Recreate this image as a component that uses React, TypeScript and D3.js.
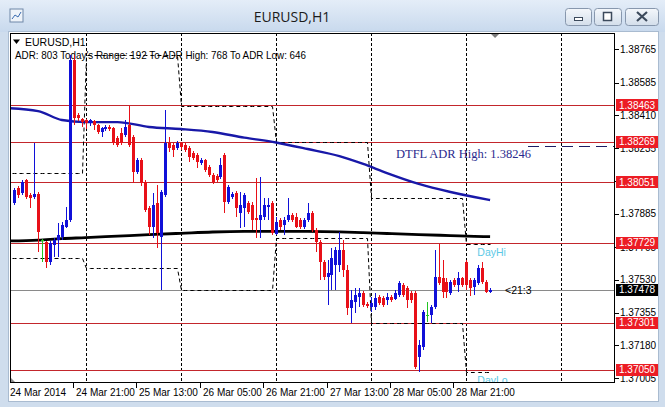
import React from "react";
import * as d3 from "d3";

const W = 665;
const H = 407;
const PLOT = { left: 10, top: 33, right: 615, bottom: 383 };
const UI = "'Liberation Sans', Arial, sans-serif";

// hourly bars, hour index counted from 24 Mar 2014 00:00
const firstHour = 6;
const opens = [
  1.37941, 1.38021, 1.37994, 1.38064, 1.37984, 1.37973, 1.37989, 1.37743, 1.37732, 1.37625,
  1.37716, 1.37743, 1.37759, 1.37813, 1.3785, 1.38706, 1.38412, 1.3839, 1.38385, 1.38369,
  1.3838, 1.38358, 1.38321, 1.38337, 1.38348, 1.38342, 1.38289, 1.38315, 1.38305, 1.38358,
  1.38294, 1.38107, 1.38171, 1.38053, 1.37914, 1.37813, 1.37941, 1.37759, 1.37984, 1.38262,
  1.38251, 1.38235, 1.38262, 1.38251, 1.38235, 1.38208, 1.38198, 1.38155, 1.38171, 1.38134,
  1.38091, 1.38085, 1.3808, 1.38198, 1.37946, 1.37973, 1.37994, 1.37887, 1.37914, 1.37941,
  1.3793, 1.37861, 1.3785, 1.37866, 1.3792, 1.37941, 1.37775, 1.3785, 1.37823, 1.3785,
  1.37877, 1.37866, 1.3785, 1.37813, 1.3785, 1.37887, 1.37797, 1.37732, 1.37625, 1.37545,
  1.37556, 1.37609, 1.37609, 1.3769, 1.37583, 1.37379, 1.37411, 1.37438, 1.37459, 1.37401,
  1.37385, 1.37385, 1.37438, 1.37433, 1.37422, 1.37438, 1.37427, 1.37449, 1.37502, 1.37486,
  1.37459, 1.37459, 1.37117, 1.37171, 1.37342, 1.37342, 1.37385, 1.37545, 1.3754, 1.37518,
  1.37459, 1.37529, 1.37502, 1.3754, 1.37625, 1.37529, 1.37492, 1.37513, 1.37593, 1.37518,
  1.37465,
];
const highs = [
  1.38021, 1.38032, 1.38064, 1.38069, 1.37994, 1.38262, 1.38, 1.37748, 1.37738, 1.37738,
  1.37754, 1.37834, 1.37839, 1.3792, 1.38733, 1.38733, 1.38422, 1.38396, 1.3839, 1.3839,
  1.38385, 1.38364, 1.38348, 1.38358, 1.38358, 1.38348, 1.38299, 1.38342, 1.38385, 1.3846,
  1.38305, 1.38182, 1.38182, 1.38064, 1.37925, 1.37994, 1.38037, 1.38011, 1.38439, 1.38294,
  1.38262, 1.38273, 1.38267, 1.38262, 1.38246, 1.38219, 1.38208, 1.38182, 1.38176, 1.38144,
  1.38101, 1.38096, 1.38182, 1.38208, 1.38037, 1.38, 1.38005, 1.38, 1.37994, 1.37952,
  1.37946, 1.38075, 1.3808, 1.37968, 1.37968, 1.37952, 1.37866, 1.37861, 1.37866, 1.37968,
  1.37887, 1.37887, 1.37861, 1.37861, 1.37941, 1.37898, 1.37807, 1.37743, 1.37636, 1.37636,
  1.377, 1.37706, 1.37786, 1.37743, 1.37609, 1.37476, 1.37486, 1.37486, 1.3747, 1.37411,
  1.37438, 1.37459, 1.37449, 1.37443, 1.37459, 1.37449, 1.37476, 1.37524, 1.37513, 1.37497,
  1.3747, 1.3747, 1.37208, 1.37369, 1.37411, 1.37395, 1.3769, 1.37722, 1.37636, 1.3754,
  1.37529, 1.3754, 1.37572, 1.37545, 1.37635, 1.3754, 1.3754, 1.37609, 1.37625, 1.37529,
  1.37486,
];
const lows = [
  1.3793, 1.37968, 1.37984, 1.37962, 1.37914, 1.37962, 1.37679, 1.37625, 1.37593, 1.37609,
  1.37652, 1.37652, 1.37743, 1.37807, 1.37839, 1.38358, 1.3838, 1.38348, 1.38337, 1.38353,
  1.38332, 1.3831, 1.38294, 1.38326, 1.38326, 1.38251, 1.38241, 1.38251, 1.38294, 1.38241,
  1.38048, 1.38096, 1.38032, 1.37893, 1.3777, 1.37754, 1.377, 1.37476, 1.37973, 1.38214,
  1.38187, 1.38225, 1.38225, 1.38214, 1.3816, 1.38171, 1.38128, 1.38144, 1.38107, 1.3808,
  1.38043, 1.38053, 1.38069, 1.37887, 1.37936, 1.37962, 1.37866, 1.37807, 1.37813, 1.37882,
  1.37797, 1.37754, 1.37754, 1.3785, 1.3785, 1.3777, 1.3777, 1.37797, 1.3777, 1.37839,
  1.37839, 1.37807, 1.37802, 1.37802, 1.37839, 1.37786, 1.37679, 1.37529, 1.37529, 1.37395,
  1.37476, 1.37476, 1.37572, 1.37545, 1.37342, 1.37299, 1.37352, 1.37385, 1.37385, 1.37379,
  1.37358, 1.37369, 1.37395, 1.37385, 1.37395, 1.37411, 1.37422, 1.37438, 1.37438, 1.37379,
  1.37406, 1.37053, 1.37037, 1.37155, 1.37304, 1.37299, 1.37374, 1.37502, 1.37433, 1.37433,
  1.37449, 1.37492, 1.37465, 1.37492, 1.37476, 1.37443, 1.37449, 1.37502, 1.37508, 1.37459,
  1.37459,
];
const closes = [
  1.38011, 1.37984, 1.38053, 1.37973, 1.37968, 1.37989, 1.37786, 1.37743, 1.37625, 1.37727,
  1.37743, 1.3777, 1.37823, 1.3785, 1.38706, 1.38396, 1.38396, 1.38374, 1.38369, 1.38385,
  1.38358, 1.38321, 1.38342, 1.38348, 1.38337, 1.38262, 1.38251, 1.38262, 1.38348, 1.38251,
  1.38107, 1.38171, 1.38048, 1.37904, 1.37813, 1.3793, 1.3778, 1.38, 1.38262, 1.38235,
  1.38225, 1.38262, 1.38241, 1.38225, 1.38187, 1.38182, 1.3816, 1.38171, 1.38118, 1.38091,
  1.38053, 1.38064, 1.38144, 1.37946, 1.38027, 1.37989, 1.37914, 1.3793, 1.37984, 1.37893,
  1.3785, 1.3785, 1.37877, 1.3793, 1.3793, 1.3778, 1.37839, 1.37813, 1.3785, 1.37877,
  1.3785, 1.37813, 1.37813, 1.3785, 1.37887, 1.37797, 1.37732, 1.37625, 1.37545, 1.37566,
  1.37647, 1.3769, 1.3769, 1.37583, 1.37379, 1.37422, 1.37449, 1.37459, 1.37395, 1.3739,
  1.37406, 1.37433, 1.37406, 1.37395, 1.37438, 1.37422, 1.37459, 1.37513, 1.37449, 1.37422,
  1.37422, 1.37064, 1.37181, 1.37358, 1.37342, 1.37385, 1.37545, 1.37513, 1.37465, 1.37465,
  1.37518, 1.37502, 1.3754, 1.37502, 1.37502, 1.37486, 1.37529, 1.37593, 1.37518, 1.37465,
  1.37478,
];

// high / low of the day before the first visible day (21 Mar)
const prevDayHigh = 1.38101;
const prevDayLow = 1.37647;

// moving averages, read at a few bar hours
const maHours = [4, 12, 18, 24, 32, 40, 48, 56, 64, 72, 80, 88, 94, 100, 108, 116, 122, 126];
const maBlue = [
  1.38449, 1.38433, 1.38385, 1.38374, 1.38374, 1.38348, 1.38337, 1.38321, 1.38291,
  1.38265, 1.3823, 1.38192, 1.3815, 1.38101, 1.38043, 1.38, 1.37973, 1.37957,
];
const maBlack = [
  1.37738, 1.37743, 1.37751, 1.37756, 1.37764, 1.37772, 1.37779, 1.37786, 1.37789,
  1.37789, 1.37789, 1.37787, 1.37783, 1.37778, 1.37772, 1.37767, 1.37763, 1.37761,
];

const adrLevels = [1.38463, 1.38269, 1.38051, 1.37729, 1.37301, 1.3705];
const bid = 1.37478;
const adrHigh = 1.38246;
const priceTicks = [
  1.38765, 1.38585, 1.3841, 1.38235, 1.3806, 1.37885, 1.37705, 1.3753, 1.37355, 1.3718, 1.37005,
];
const separatorHours = [24, 48, 72, 96, 120, 144];
const timeTickHours = [21, 37, 53, 69, 85, 101, 117];
const timeTickLabels = [
  "24 Mar 21:00", "25 Mar 13:00", "26 Mar 05:00", "26 Mar 21:00",
  "27 Mar 13:00", "28 Mar 05:00", "28 Mar 21:00",
];
const firstDateLabel = "24 Mar 2014";

export default function App() {
  const x = d3.scaleLinear().domain([0, 144]).range([-9.5, -9.5 + 3.965 * 144]);
  const y = d3.scaleLinear().domain([1.37005, 1.38765]).range([378, 49]);
  const fmt = d3.format(".5f");

  const bars = opens.map((o, k) => ({
    hour: firstHour + k,
    o,
    h: highs[k],
    l: lows[k],
    c: closes[k],
  }));

  // previous day's high / low carried over each day
  const dayHi = new Map<number, number>();
  const dayLo = new Map<number, number>();
  d3.groups(bars, (b) => Math.floor(b.hour / 24)).forEach(([d, bs]) => {
    dayHi.set(d, d3.max(bs, (b) => b.h) as number);
    dayLo.set(d, d3.min(bs, (b) => b.l) as number);
  });
  const lastHour = bars[bars.length - 1].hour;
  const hours = d3.range(0, lastHour + 1);
  const prevHi = (h: number) => {
    const d = Math.floor(h / 24);
    return d === 0 ? prevDayHigh : (dayHi.get(d - 1) as number);
  };
  const prevLo = (h: number) => {
    const d = Math.floor(h / 24);
    return d === 0 ? prevDayLow : (dayLo.get(d - 1) as number);
  };
  const snap = (v: number) => Math.round(v) + 0.5;
  const hiPath = d3.line<number>().x((h) => snap(x(h))).y((h) => snap(y(prevHi(h))))(hours) as string;
  const loPath = d3.line<number>().x((h) => snap(x(h))).y((h) => snap(y(prevLo(h))))(hours) as string;

  const maLine = (vals: number[]) =>
    d3
      .line<number>()
      .x((h) => x(h))
      .y((_, i) => y(vals[i]))
      .curve(d3.curveMonotoneX)(maHours) as string;

  const px = (h: number) => Math.round(x(h));
  const todayStart = Math.floor(lastHour / 24) * 24;

  return (
    <svg
      width={W}
      height={H}
      style={{ position: "absolute", left: 0, top: 0 }}
      fontFamily={UI}
    >
      <defs>
        <linearGradient id="titleBg" x1="0" y1="0" x2="0" y2="1">
          <stop offset="0" stopColor="#e4edf8" />
          <stop offset="1" stopColor="#c8d9ed" />
        </linearGradient>
        <linearGradient id="btnBg" x1="0" y1="0" x2="0" y2="1">
          <stop offset="0" stopColor="#f4f7fb" />
          <stop offset="1" stopColor="#d3deeb" />
        </linearGradient>
        <clipPath id="plotClip">
          <rect
            x={PLOT.left}
            y={PLOT.top}
            width={PLOT.right - PLOT.left}
            height={PLOT.bottom - PLOT.top}
          />
        </clipPath>
      </defs>

      {/* window chrome */}
      <rect x={0} y={0} width={W} height={H} fill="#cfdded" />
      <rect x={0} y={0} width={W} height={32} fill="url(#titleBg)" />
      <g transform="translate(10,9)">
        <rect x={0} y={0} width={13} height={13} fill="#eef3f9" stroke="#6f87a8" />
        <path d="M2,10 L5,6 L8,8 L11,3" fill="none" stroke="#3a6bb0" strokeWidth={1} />
      </g>
      <text x={292} y={22} textAnchor="middle" fontFamily="'Open Sans', sans-serif" fontSize={14} fill="#1b1b1b">
        EURUSD,H1
      </text>
      {[
        { x0: 565, w: 26 },
        { x0: 594, w: 27 },
        { x0: 625, w: 33 },
      ].map((b, i) => (
        <g key={i}>
          <rect x={b.x0 + 0.5} y={8.5} width={b.w} height={17} rx={3} fill="url(#btnBg)" stroke="#8797ad" />
          {i === 0 && <rect x={b.x0 + 9.5} y={17.5} width={8} height={3} fill="#fff" stroke="#3c4a5c" />}
          {i === 1 && <rect x={b.x0 + 9.5} y={12.5} width={8} height={8} fill="#fff" stroke="#3c4a5c" strokeWidth={1.5} />}
          {i === 2 && (
            <path
              d={`M${b.x0 + 12},12 L${b.x0 + 22},21 M${b.x0 + 22},12 L${b.x0 + 12},21`}
              stroke="#3c4a5c"
              strokeWidth={2.2}
            />
          )}
        </g>
      ))}
      <rect x={8.5} y={31.5} width={650} height={370} fill="#fff" stroke="#a9bbd0" />

      {/* plot area */}
      <g clipPath="url(#plotClip)">
        {/* info text */}
        <path d="M13,39.5 L20,39.5 L16.5,44 Z" fill="#000" />
        <text x={25} y={42} fontSize={10.5} dominantBaseline="central" fill="#000">
          EURUSD,H1
        </text>
        <text
          x={15}
          y={54.5}
          fontSize={10.5}
          dominantBaseline="central"
          fill="#000"
          textLength={291}
          lengthAdjust="spacingAndGlyphs"
        >
          ADR: 803  Today's Range: 192  To ADR High: 768  To ADR Low: 646
        </text>

        {/* period separators */}
        {separatorHours.map((h) => (
          <line
            key={h}
            x1={px(h) + 0.5}
            x2={px(h) + 0.5}
            y1={PLOT.top}
            y2={PLOT.bottom}
            stroke="#000"
            strokeDasharray="3,2"
          />
        ))}

        {/* ADR levels */}
        {adrLevels.map((p) => (
          <line
            key={p}
            x1={PLOT.left}
            x2={PLOT.right}
            y1={snap(y(p))}
            y2={snap(y(p))}
            stroke="#c3262c"
          />
        ))}
        <line x1={PLOT.left} x2={PLOT.right} y1={snap(y(bid))} y2={snap(y(bid))} stroke="#8a8a8a" />
        <line
          x1={528}
          x2={PLOT.right}
          y1={snap(y(adrHigh))}
          y2={snap(y(adrHigh))}
          stroke="#1c1c64"
          strokeDasharray="11,6"
        />

        {/* previous day high / low */}
        <path d={hiPath} fill="none" stroke="#000" strokeDasharray="4,3" />
        <path d={loPath} fill="none" stroke="#000" strokeDasharray="4,3" />

        {/* moving averages */}
        <path d={maLine(maBlue)} fill="none" stroke="#1818a8" strokeWidth={2.4} />
        <path d={maLine(maBlack)} fill="none" stroke="#000" strokeWidth={2.8} />

        {/* candles */}
        <g shapeRendering="crispEdges">
          {bars.map((b) => {
            const cx = px(b.hour);
            const col = b.c > b.o ? "#1010d8" : b.c < b.o ? "#e81018" : "#22c422";
            const top = y(Math.max(b.o, b.c));
            const bot = y(Math.min(b.o, b.c));
            return (
              <g key={b.hour}>
                <line x1={cx + 0.5} x2={cx + 0.5} y1={y(b.h)} y2={y(b.l)} stroke={col} />
                <rect x={cx - 1} y={top} width={3} height={Math.max(1, bot - top)} fill={col} />
              </g>
            );
          })}
        </g>

        {/* labels */}
        <text x={396} y={158} fontFamily="'Liberation Serif', 'Times New Roman', serif" fontSize={12.5} fill="#2a2a8e">
          DTFL ADR High: {fmt(adrHigh)}
        </text>
        <text x={x(todayStart) + 11} y={y(prevHi(lastHour)) + 8} fontSize={10.5} dominantBaseline="central" fill="#5cc9e6">
          DayHi
        </text>
        <text x={x(todayStart) + 11} y={y(prevLo(lastHour)) + 8} fontSize={10.5} dominantBaseline="central" fill="#5cc9e6">
          DayLo
        </text>
        <text x={505} y={y(bid)} fontSize={10.5} dominantBaseline="central" fill="#000">
          {"<21:3"}
        </text>

        <path d={`M${x(126) + 1},34 L${x(126) + 9},34 L${x(126) + 5},38 Z`} fill="#7d7d7d" />
        <path d={`M${PLOT.left},${PLOT.bottom - 6} L${PLOT.left},${PLOT.bottom} L${PLOT.left + 6},${PLOT.bottom} Z`} fill="#8a8a8a" />
      </g>

      <rect
        x={PLOT.left + 0.5}
        y={PLOT.top + 0.5}
        width={PLOT.right - PLOT.left - 1}
        height={PLOT.bottom - PLOT.top - 1}
        fill="none"
        stroke="#000"
      />

      {/* price axis */}
      {priceTicks.map((p) => (
        <g key={p}>
          <line x1={PLOT.right} x2={PLOT.right + 4} y1={snap(y(p))} y2={snap(y(p))} stroke="#000" />
          <text x={620} y={y(p)} fontSize={10} dominantBaseline="central" fill="#000">
            {fmt(p)}
          </text>
        </g>
      ))}
      {adrLevels.map((p) => (
        <g key={p}>
          <rect x={616} y={Math.round(y(p)) - 6} width={42} height={12} fill="#ec1c24" />
          <text x={619} y={y(p)} fontSize={10} dominantBaseline="central" fill="#fff">
            {fmt(p)}
          </text>
        </g>
      ))}
      <rect x={616} y={Math.round(y(bid)) - 6} width={42} height={12} fill="#000" />
      <text x={619} y={y(bid)} fontSize={10} dominantBaseline="central" fill="#fff">
        {fmt(bid)}
      </text>

      {/* time axis */}
      <text x={PLOT.left} y={396} fontSize={10} fill="#000">
        {firstDateLabel}
      </text>
      {timeTickHours.map((h, i) => (
        <g key={h}>
          <line x1={px(h) - 0.5} x2={px(h) - 0.5} y1={PLOT.bottom} y2={PLOT.bottom + 5} stroke="#000" />
          <text x={px(h) + 2} y={396} fontSize={10} fill="#000">
            {timeTickLabels[i]}
          </text>
        </g>
      ))}
    </svg>
  );
}
